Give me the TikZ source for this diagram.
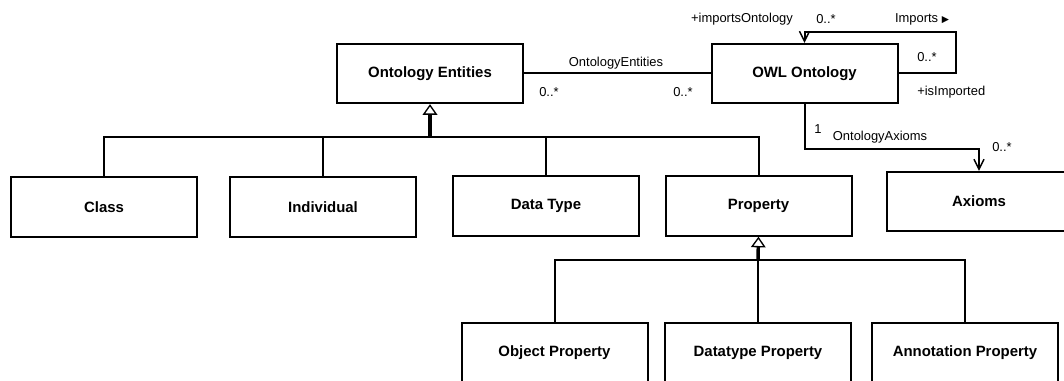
\documentclass[tikz,border=0pt]{standalone}
\usepackage{fontspec}
\setmainfont{Liberation Sans}
\newfontfamily\symfont{DejaVu Sans}
\usetikzlibrary{arrows.meta}
\begin{document}
\begin{tikzpicture}[x=0.75pt,y=-0.75pt,
  cls/.style={draw, line width=1.5pt, minimum width=139.5pt, minimum height=44.5pt,
    inner sep=0pt, fill=white, font=\fontsize{11.2pt}{13pt}\selectfont\bfseries},
  lbl/.style={inner sep=0pt, font=\fontsize{9.7pt}{11pt}\selectfont},
  link/.style={line width=1.5pt},
  gen/.style={line width=2.6pt, -{Triangle[open, length=8pt, width=11pt, line width=1pt]}},
  nav/.style={line width=1.5pt, -{Straight Barb[length=7.5pt, width=7.5pt, line width=1.1pt]}},
]
\useasboundingbox (0,0) rectangle (1064,381);
\clip (0,0) rectangle (1064,381);

% classes
\node[cls] (oe)    at (430,73.5)  {Ontology Entities};
\node[cls] (owl)   at (804.5,73.5) {OWL Ontology};
\node[cls] (cls)   at (104,207)   {Class};
\node[cls] (ind)   at (323,207)   {Individual};
\node[cls] (dt)    at (546,206)   {Data Type};
\node[cls] (prop)  at (758.5,206) {Property};
\node[cls, minimum width=138pt] (ax) at (979,201.5) {Axioms};
\node[cls] (op)    at (554.5,353) {Object Property};
\node[cls] (dtp)   at (758,353)   {Datatype Property};
\node[cls] (ap)    at (965,353)   {Annotation Property};

% generalisation buses
\coordinate (gbus) at (430,137);
\coordinate (pbus) at (758,260);
\draw[link] (cls.north) |- (gbus) -| (prop.north);
\draw[link] (ind.north) -- (ind.north |- gbus);
\draw[link] (dt.north) -- (dt.north |- gbus);
\draw[gen] (gbus) -- (oe.south);

\draw[link] (op.north) |- (pbus) -| (ap.north);
\draw[link] (dtp.north) -- (pbus);
\draw[gen] (pbus) -- (prop.south);

% association OntologyEntities
\draw[link] (oe.east) -- (owl.west);
\node[lbl] (l1) at (616,63) {OntologyEntities};
\node[lbl] (m1) at (549,92) {0..*};
\node[lbl] (m2) at (683,92) {0..*};

% Imports self association
\coordinate (loop) at (956,32);
\draw[nav] (owl.east) -| (loop) -| (owl.north);
\node[lbl] (r1) at (742,19) {+importsOntology};
\node[lbl] (m3) at (826,19) {0..*};
\node[lbl] (l2) at (922,19) {Imports {\symfont\fontsize{7pt}{8pt}\selectfont ▶}};
\node[lbl] (m4) at (927,57) {0..*};
\node[lbl, anchor=west] (r2) at (917,92) {+isImported};

% OntologyAxioms association
\coordinate (axbend) at (804.5,149);
\draw[nav] (owl.south) -- (axbend) -| (ax.north);
\node[lbl] (m5) at (818,129) {1};
\node[lbl] (l3) at (880,137) {OntologyAxioms};
\node[lbl] (m6) at (1002,147) {0..*};
\end{tikzpicture}
\end{document}
